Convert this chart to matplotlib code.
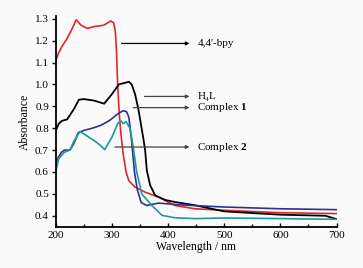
import matplotlib.pyplot as plt
import numpy as np
from matplotlib.ticker import MultipleLocator

plt.rcParams['font.family'] = ['Liberation Serif', 'DejaVu Serif']
plt.rcParams['mathtext.fontset'] = 'custom'
plt.rcParams['mathtext.rm'] = 'Liberation Serif'
plt.rcParams['mathtext.bf'] = 'Liberation Serif:bold'

# 4,4'-bpy (red)
wl_bpy = [200, 205, 210, 220, 230, 236, 245, 256, 270, 285, 298, 303, 306, 308, 310, 313, 316, 320, 325,
          330, 341, 359, 383, 412, 448, 500, 600, 700]
abs_bpy = [1.11, 1.145, 1.17, 1.21, 1.26, 1.295, 1.27, 1.256, 1.265, 1.27, 1.29, 1.28, 1.24, 1.15, 1.0, 0.86,
           0.77, 0.68, 0.6, 0.56, 0.531, 0.508, 0.485, 0.447, 0.432, 0.425, 0.414, 0.41]

# H4L (black)
wl_h4l = [200, 205, 211, 220, 232, 241, 250, 268, 286, 300, 312, 320, 330, 335, 341, 347, 351, 356,
          359, 362, 368, 377, 395, 412, 448, 500, 600, 680, 700]
abs_h4l = [0.79, 0.82, 0.834, 0.84, 0.887, 0.93, 0.933, 0.926, 0.912, 0.956, 1.0, 1.005, 1.012, 1.0,
           0.956, 0.887, 0.826, 0.75, 0.70, 0.607, 0.539, 0.493, 0.472, 0.463, 0.448, 0.42, 0.405,
           0.40, 0.385]

# Complex 1 (blue)
wl_c1 = [200, 205, 210, 215, 225, 232, 240, 250, 265, 280, 296, 310, 320, 326, 330, 335, 340, 345,
         352, 362, 383, 420, 500, 600, 700]
abs_c1 = [0.638, 0.67, 0.69, 0.70, 0.70, 0.73, 0.78, 0.79, 0.80, 0.813, 0.836, 0.865, 0.88, 0.875,
          0.85, 0.74, 0.60, 0.52, 0.46, 0.447, 0.458, 0.45, 0.44, 0.432, 0.428]

# Complex 2 (teal)
wl_c2 = [200, 205, 215, 225, 232, 243, 255, 270, 280, 287, 300, 310, 315, 320, 325, 332, 338, 344,
         353, 371, 389, 412, 448, 500, 600, 700]
abs_c2 = [0.607, 0.66, 0.69, 0.70, 0.74, 0.785, 0.765, 0.74, 0.72, 0.702, 0.76, 0.82, 0.835, 0.82,
          0.83, 0.80, 0.71, 0.60, 0.50, 0.447, 0.402, 0.391, 0.387, 0.39, 0.387, 0.384]

fig = plt.figure(figsize=(3.63, 2.68), dpi=100, facecolor='#fafafa')
ax = fig.add_axes([0.154, 0.154, 0.773, 0.786])
ax.set_facecolor('#fafafa')

ax.plot(wl_bpy, abs_bpy, color='#e3242b', lw=1.2)
ax.plot(wl_h4l, abs_h4l, color='black', lw=1.3)
ax.plot(wl_c1, abs_c1, color='#2e3192', lw=1.2)
ax.plot(wl_c2, abs_c2, color='#1b9a9a', lw=1.2)

# arrows to the labels
arrows = [(312, 1.187, "4,4'-bpy", 'black'),
          (353, 0.945, 'H\u2084L', '#444444'),
          (333, 0.894, r'Complex $\mathbf{1}$', '#444444'),
          (300, 0.714, r'Complex $\mathbf{2}$', '#444444')]
for x0, y0, label, c in arrows:
    ax.annotate('', xy=(443, y0), xytext=(x0, y0),
                arrowprops=dict(arrowstyle='-|>', color=c, lw=0.9, mutation_scale=5))
    ax.text(452, y0, label, fontsize=8, va='center', ha='left')

ax.set_xlim(200, 700)
ax.set_ylim(0.35, 1.312)
ax.xaxis.set_major_locator(MultipleLocator(100))
ax.xaxis.set_minor_locator(MultipleLocator(50))
ax.yaxis.set_major_locator(MultipleLocator(0.1))
ax.spines['top'].set_visible(False)
ax.spines['right'].set_visible(False)
ax.spines['left'].set_linewidth(1.3)
ax.spines['bottom'].set_linewidth(1.3)
ax.tick_params(axis='x', which='major', direction='in', length=3, width=1, labelsize=8, pad=3)
ax.tick_params(axis='x', which='minor', direction='in', length=2, width=1)
ax.tick_params(axis='y', which='major', direction='out', length=3, width=1, labelsize=8, pad=2)
ax.set_xlabel('Wavelength / nm', fontsize=8.5, labelpad=1)
ax.set_ylabel('Absorbance', fontsize=8.5, labelpad=3)

plt.savefig('out.png', dpi=100, facecolor=fig.get_facecolor())
